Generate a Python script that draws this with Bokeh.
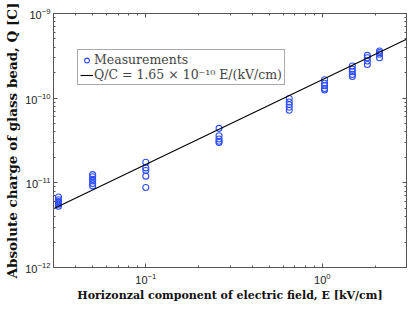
from bokeh.plotting import figure
from bokeh.models import (LogAxis, FixedTicker, Legend, LegendItem, Range1d,
                          CustomJSTickFormatter, LogTickFormatter)
from bokeh.embed import file_html
from bokeh.resources import INLINE

# Measured field values (kV/cm) and charges (C)
E_groups = [0.032, 0.05, 0.1, 0.26, 0.65, 1.03, 1.48, 1.80, 2.11]
Q_groups = [
    [6.8e-12, 6.3e-12, 6.0e-12, 5.8e-12, 5.6e-12, 5.3e-12],
    [1.25e-11, 1.18e-11, 1.10e-11, 1.05e-11, 0.98e-11, 0.92e-11],
    [1.75e-11, 1.50e-11, 1.40e-11, 1.20e-11, 0.88e-11],
    [4.4e-11, 3.6e-11, 3.3e-11, 3.1e-11, 3.0e-11],
    [9.9e-11, 9.0e-11, 8.4e-11, 7.8e-11, 7.2e-11],
    [1.65e-10, 1.50e-10, 1.40e-10, 1.30e-10, 1.25e-10],
    [2.4e-10, 2.2e-10, 2.05e-10, 1.9e-10, 1.8e-10],
    [3.2e-10, 3.0e-10, 2.75e-10, 2.5e-10],
    [3.6e-10, 3.45e-10, 3.3e-10, 3.0e-10],
]
fit_coef = 1.65e-10
fit_E = [0.03, 3.0]
x_limits = [0.03, 3.0]
y_limits = [1e-12, 1e-9]
x_major = [0.1, 1.0]
y_major = [1e-12, 1e-11, 1e-10, 1e-9]

xs = [e for e, qs in zip(E_groups, Q_groups) for _ in qs]
ys = [q for qs in Q_groups for q in qs]
fit_Q = [fit_coef * e for e in fit_E]


def minors(lo_exp, hi_exp, lo, hi):
    out = []
    for k in range(lo_exp, hi_exp + 1):
        for m in range(2, 10):
            v = m * 10.0 ** k
            if lo < v < hi:
                out.append(v)
    return out

x_minor = minors(-2, 0, *x_limits)
y_minor = minors(-12, -10, *y_limits)

p = figure(frame_width=353, frame_height=254, x_axis_type="log", y_axis_type="log",
           x_range=Range1d(*x_limits), y_range=Range1d(*y_limits),
           output_backend="svg", toolbar_location=None,
           min_border_left=53, min_border_right=1, min_border_top=13, min_border_bottom=36)
p.xgrid.visible = False
p.ygrid.visible = False
p.outline_line_color = "#555555"
p.background_fill_color = "white"

r_pts = p.scatter(xs, ys, marker="circle", size=6, fill_color=None,
                  line_color="#2f4fff", line_width=1.1)
r_fit = p.line(fit_E, fit_Q, line_color="black", line_width=1.1)


def style_axis(ax, major, minor, labels=True):
    ax.ticker = FixedTicker(ticks=major, minor_ticks=minor)
    ax.major_tick_in = 4
    ax.major_tick_out = 0
    ax.minor_tick_in = 2
    ax.minor_tick_out = 0
    ax.axis_line_color = "#555555"
    ax.major_tick_line_color = "#555555"
    ax.minor_tick_line_color = "#555555"
    if labels:
        ax.formatter = LogTickFormatter()
        ax.major_label_text_font = "Liberation Sans"
        ax.major_label_text_font_size = "11px"
        ax.major_label_text_color = "#222222"
        ax.major_label_standoff = 3
    else:
        ax.formatter = CustomJSTickFormatter(code="return ' ';")
        ax.major_label_text_font_size = "1px"
        ax.major_label_standoff = 0

style_axis(p.xaxis[0], x_major, x_minor)
style_axis(p.yaxis[0], y_major, y_minor)
p.xaxis.axis_label = "Horizonzal component of electric field, E [kV/cm]"
p.yaxis.axis_label = "Absolute charge of glass bead, Q [C]"
for ax, size in ((p.xaxis[0], "11px"), (p.yaxis[0], "13.5px")):
    ax.axis_label_text_font = "DejaVu Serif"
    ax.axis_label_text_font_style = "bold"
    ax.axis_label_text_font_size = size
    ax.axis_label_text_color = "#111111"
    ax.axis_label_standoff = 2
p.xaxis[0].major_label_standoff = 5

top = LogAxis()
right = LogAxis()
style_axis(top, x_major, x_minor, labels=False)
style_axis(right, y_major, y_minor, labels=False)
p.add_layout(top, "above")
p.add_layout(right, "right")

legend = Legend(items=[LegendItem(label="Measurements", renderers=[r_pts]),
                       LegendItem(label="Q/C = 1.65 × 10⁻¹⁰ E/(kV/cm)", renderers=[r_fit])],
                location=(24, 182), orientation="vertical")
legend.label_text_font = "DejaVu Serif"
legend.label_text_font_size = "12.5px"
legend.label_height = 12
legend.glyph_height = 12
legend.glyph_width = 13
legend.label_standoff = 1
legend.padding = 2
legend.spacing = 0
legend.margin = 0
legend.border_line_color = "#555555"
legend.background_fill_alpha = 1
p.add_layout(legend)

open("out.html", "w").write(file_html(p, INLINE))
